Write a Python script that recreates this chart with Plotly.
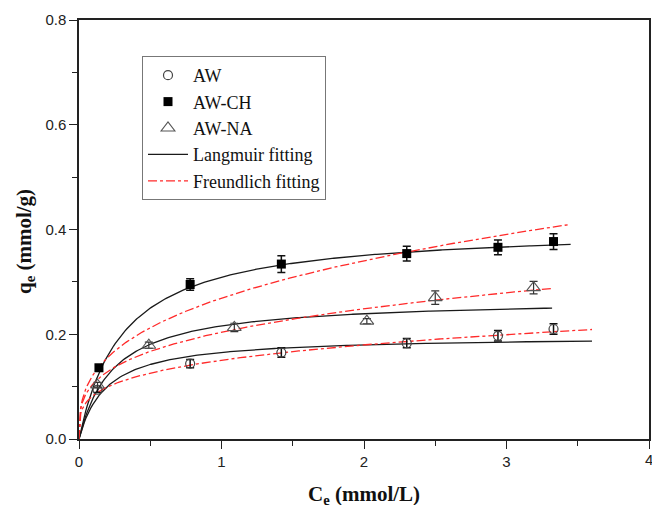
import numpy as np
import plotly.graph_objects as go

# Equilibrium concentration Ce (mmol/L) and uptake qe (mmol/g)
ce_aw = [0.13, 0.78, 1.42, 2.30, 2.94, 3.33]
qe_aw = [0.094, 0.144, 0.165, 0.183, 0.197, 0.210]
err_aw = [0.005, 0.008, 0.009, 0.009, 0.010, 0.010]

ce_ch = [0.14, 0.78, 1.42, 2.30, 2.94, 3.33]
qe_ch = [0.136, 0.295, 0.334, 0.354, 0.366, 0.377]
err_ch = [0.006, 0.011, 0.016, 0.014, 0.014, 0.015]

ce_na = [0.13, 0.49, 1.09, 2.02, 2.50, 3.19]
qe_na = [0.103, 0.179, 0.213, 0.225, 0.270, 0.289]
err_na = [0.005, 0.006, 0.008, 0.005, 0.013, 0.012]

# Fitted isotherm parameters: Langmuir (qm, KL), Freundlich (KF, 1/n), fit end Ce
langmuir = {"AW": (0.197, 5.2), "AW-CH": (0.405, 3.22), "AW-NA": (0.268, 4.16)}
freundlich = {"AW": (0.1504, 0.257), "AW-CH": (0.269, 0.34), "AW-NA": (0.204, 0.286)}
fit_end = {"AW": 3.6, "AW-CH": 3.45, "AW-NA": 3.32}

x_ticks = [0, 1, 2, 3, 4]

serif = "Liberation Serif, Times New Roman, serif"
sans = "Liberation Sans, Arial, sans-serif"

fig = go.Figure()

# Fitted curves
for i, name in enumerate(["AW-CH", "AW-NA", "AW"]):
    c = np.linspace(0, fit_end[name], 300)
    qm, kl = langmuir[name]
    kf, inv_n = freundlich[name]
    fig.add_trace(go.Scatter(
        x=c, y=qm * kl * c / (1 + kl * c), mode="lines",
        line=dict(color="#1a1a1a", width=1.3),
        name="Langmuir fitting", showlegend=(i == 0), legendrank=4,
        hoverinfo="skip"))
    fig.add_trace(go.Scatter(
        x=c, y=kf * c ** inv_n, mode="lines",
        line=dict(color="#ff2a2a", width=1.3, dash="dashdot"),
        name="Freundlich fitting", showlegend=(i == 0), legendrank=5,
        hoverinfo="skip"))

# Experimental points with error bars
fig.add_trace(go.Scatter(
    x=ce_aw, y=qe_aw, mode="markers", name="AW", legendrank=1,
    marker=dict(symbol="circle-open", size=9, color="#444444", line=dict(width=1.2)),
    error_y=dict(type="data", array=err_aw, color="#111111", thickness=1.5, width=4)))
fig.add_trace(go.Scatter(
    x=ce_ch, y=qe_ch, mode="markers", name="AW-CH", legendrank=2,
    marker=dict(symbol="square", size=9, color="#000000"),
    error_y=dict(type="data", array=err_ch, color="#111111", thickness=1.5, width=4)))
fig.add_trace(go.Scatter(
    x=ce_na, y=qe_na, mode="markers", name="AW-NA", legendrank=3,
    marker=dict(symbol="triangle-up-open", size=12, color="#555555", line=dict(width=1.1)),
    error_y=dict(type="data", array=err_na, color="#333333", thickness=1.2, width=4)))

L, R, T, B = 79, 3, 20, 66
W, H = 652, 505
pw, ph = W - L - R, H - T - B

tick_font = dict(family=sans, size=15, color="#222222")
axis_common = dict(
    showgrid=False, zeroline=False, showline=True, linecolor="#222222", linewidth=1.5,
    mirror=True, ticks="outside", ticklen=8, tickwidth=1.4, tickcolor="#222222",
    tickfont=tick_font, automargin=False,
)

# The last x label sits on the page edge, so it is placed as its own text
fig.update_xaxes(range=[0, 4], tickvals=x_ticks,
                 ticktext=[str(v) for v in x_ticks[:-1]] + [""],
                 minor=dict(dtick=0.5, ticks="outside", ticklen=5, tickwidth=1.4, tickcolor="#222222"),
                 **axis_common)
fig.update_yaxes(range=[0, 0.8], dtick=0.2, tick0=0, tickformat=".1f",
                 minor=dict(dtick=0.1, ticks="outside", ticklen=5, tickwidth=1.4, tickcolor="#222222"),
                 **axis_common)

fig.add_annotation(
    text=str(x_ticks[-1]), xref="x", yref="paper", x=x_ticks[-1], y=0,
    yshift=-20, xanchor="center", yanchor="middle", showarrow=False,
    font=tick_font)

fig.add_annotation(
    text="<b>C<sub>e</sub> (mmol/L)</b>", xref="paper", yref="paper",
    x=0.5, y=(H - B - 495) / ph,
    xanchor="center", yanchor="middle", showarrow=False,
    font=dict(family=serif, size=21, color="#111111"))
fig.add_annotation(
    text="<b>q<sub>e</sub> (mmol/g)</b>", xref="paper", yref="paper",
    x=(25 - L) / pw, y=(H - B - 242) / ph, textangle=-90,
    xanchor="center", yanchor="middle", showarrow=False,
    font=dict(family=serif, size=21, color="#111111"))

fig.update_layout(
    width=W, height=H,
    margin=dict(l=L, r=R, t=T, b=B, autoexpand=False),
    paper_bgcolor="white", plot_bgcolor="white",
    legend=dict(
        x=(142 - L) / pw, y=(H - B - 56) / ph, xanchor="left", yanchor="top",
        bgcolor="white", bordercolor="#777777", borderwidth=1,
        font=dict(family=serif, size=18, color="#111111"),
        traceorder="normal", itemwidth=40,
    ),
    showlegend=True,
)

fig.write_html("out.html")
